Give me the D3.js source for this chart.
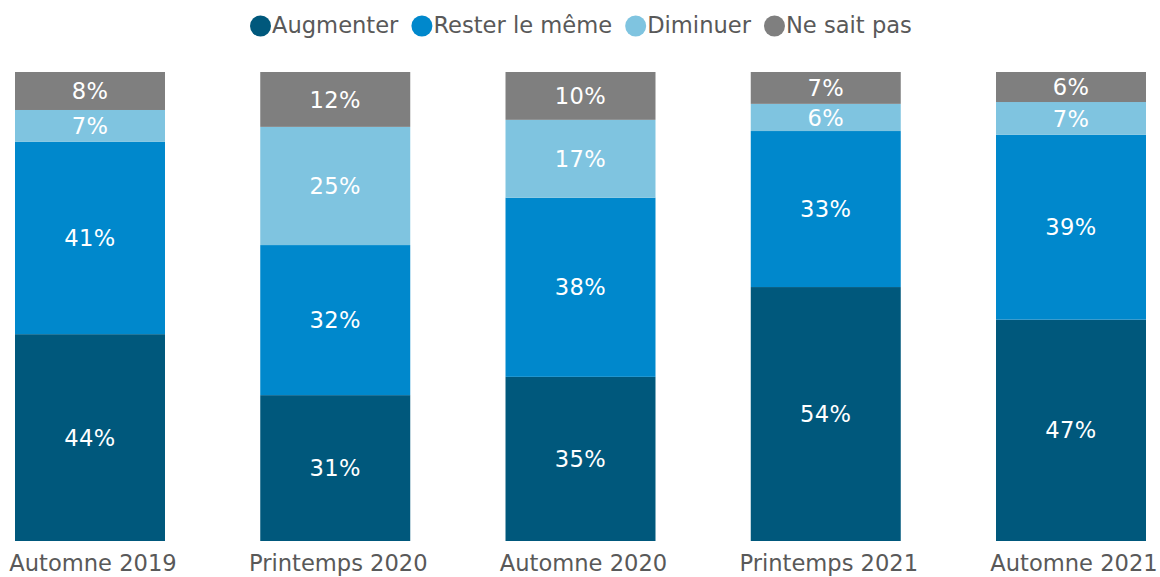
<!DOCTYPE html>
<html><head><meta charset="utf-8">
<script src="https://cdn.jsdelivr.net/npm/d3@7"></script>
<style>body{margin:0;background:#fff;} svg{display:block;font-family:"DejaVu Sans",Verdana,sans-serif;}</style>
</head><body>
<svg id="chart" width="1160" height="577"></svg>
<script>
const categories = ["Automne 2019","Printemps 2020","Automne 2020","Printemps 2021","Automne 2021"];
const seriesNames = ["Augmenter","Rester le même","Diminuer","Ne sait pas"];
const seriesKeys = ["aug","rest","dim","nsp"];
const augmenter = [44.1, 31.1, 35.0, 54.2, 47.2];
const rester    = [41.0, 32.0, 38.2, 33.3, 39.4];
const diminuer  = [6.8, 25.2, 16.6, 5.8, 7.0];
const neSaitPas = [8.1, 11.7, 10.2, 6.8, 6.4];
const colors = ["#00587c","#0088cc","#7fc4e0","#7f7f7f"];

const rows = categories.map((c,i)=>({cat:c, aug:augmenter[i], rest:rester[i], dim:diminuer[i], nsp:neSaitPas[i]}));
const stack = d3.stack().keys(seriesKeys).offset(d3.stackOffsetExpand);
const stacked = stack(rows);

const svg = d3.select("#chart");
const x = d3.scaleBand().domain(categories).range([15,1146]).paddingInner(0.3884).paddingOuter(0);
const y = d3.scaleLinear().domain([0,1]).range([541,72]);
const color = d3.scaleOrdinal().domain(seriesKeys).range(colors);
const FS = 22.6;

const g = svg.append("g");
stacked.forEach((s,si)=>{
  const grp = g.append("g").attr("fill", color(s.key));
  grp.selectAll("rect").data(s).join("rect")
    .attr("x", d=>x(d.data.cat))
    .attr("width", x.bandwidth())
    .attr("y", d=>y(d[1]))
    .attr("height", d=>y(d[0])-y(d[1]));
  g.append("g").selectAll("text").data(s).join("text")
    .attr("x", d=>x(d.data.cat)+x.bandwidth()/2)
    .attr("y", d=>(y(d[0])+y(d[1]))/2)
    .attr("dy","0.36em")
    .attr("text-anchor","middle")
    .attr("fill","#ffffff")
    .style("font-size", FS+"px")
    .style("letter-spacing","0.4px")
    .text(d=>Math.round(d.data[s.key])+"%");
});

// category axis
const xAxis = d3.axisBottom(x).tickSize(0).tickPadding(0);
const ax = svg.append("g").attr("transform","translate(0,541)").call(xAxis);
ax.select(".domain").remove();
ax.selectAll("text").attr("x",3).attr("y",30).attr("dy","0").style("font-size",FS+"px").style("font-family","DejaVu Sans, Verdana, sans-serif").attr("fill","#595959");

// legend
const leg = svg.append("g");
let lx = 250;
seriesNames.forEach((n,i)=>{
  leg.append("circle").attr("cx", lx+10.5).attr("cy",26).attr("r",10.5).attr("fill",colors[i]);
  const t = leg.append("text").attr("x", lx+22).attr("y",33).attr("fill","#595959").style("font-size",FS+"px").text(n);
  lx = lx + 22 + t.node().getComputedTextLength() + 13;
});
</script>
</body></html>
